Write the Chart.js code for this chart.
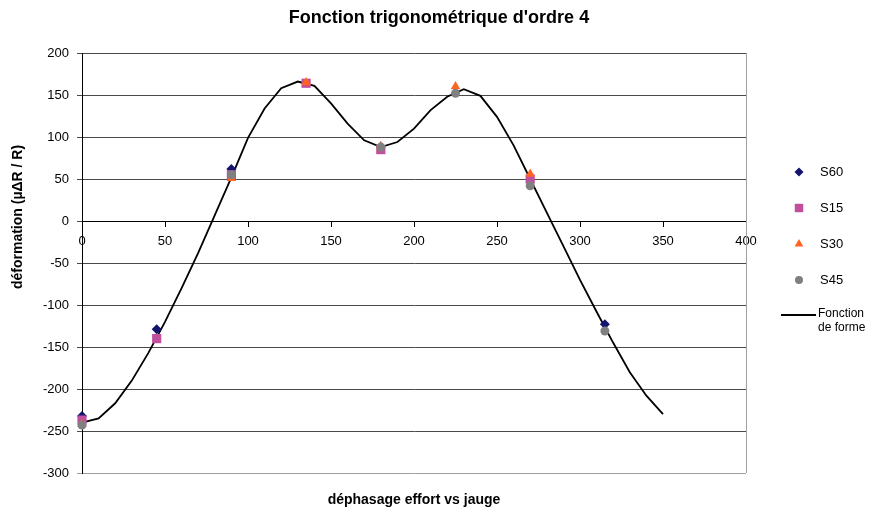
<!DOCTYPE html>
<html>
<head>
<meta charset="utf-8">
<script src="https://cdn.jsdelivr.net/npm/chart.js@4/dist/chart.umd.min.js"></script>
<style>
  html, body { margin: 0; padding: 0; background: #fff; }
</style>
</head>
<body>
<canvas id="chart" width="872" height="512"></canvas>
<script>
// measured gauge points (deg -> µΔR/R), null where a series has no point
const angles = [0, 45, 90, 135, 180, 225, 270, 315];
const s60 = [-232, -129, 62, null, null, null, null, -123];
const s15 = [-237, -140, 55, 164, 85, null, 50, null];
const s30 = [-242, null, 51, 165, 89, 160, 56, null];
const s45 = [-243, null, 55, null, 88, 152, 42, -131];

// shape function, every 10 degrees
const formeAngles = [0, 10, 20, 30, 40, 50, 60, 70, 80, 90, 100, 110, 120, 130, 140, 150, 160, 170,
  180, 190, 200, 210, 220, 230, 240, 250, 260, 270, 280, 290, 300, 310, 320, 330, 340, 350];
const formeValues = [-240, -235, -217, -190, -157, -120, -80, -38, 7, 52, 99, 134, 158, 166, 161, 140, 116, 96,
  88, 94, 110, 132, 148, 157, 149, 124, 90, 50, 10, -30, -70, -108, -145, -180, -208, -230];

const xTicks = [0, 50, 100, 150, 200, 250, 300, 350, 400];
const yTicks = [-300, -250, -200, -150, -100, -50, 0, 50, 100, 150, 200];

const FONT = '"Liberation Sans", Arial, sans-serif';

function points(xs, ys) {
  const out = [];
  xs.forEach((x, i) => {
    if (ys[i] !== null) out.push({ x: x, y: ys[i] });
  });
  return out;
}

const series = [
  { label: 'S60', values: s60, color: '#14146e', style: 'rectRot', radius: 5, order: 4 },
  { label: 'S15', values: s15, color: '#c0509e', style: 'rect', radius: 6.5, order: 3 },
  { label: 'S30', values: s30, color: '#ff6420', style: 'triangle', radius: 5.5, order: 2 },
  { label: 'S45', values: s45, color: '#808080', style: 'circle', radius: 4.5, order: 1 }
];

const datasets = series.map(s => ({
  label: s.label,
  data: points(angles, s.values),
  showLine: false,
  clip: false,
  pointStyle: s.style,
  pointRadius: s.radius,
  pointHoverRadius: s.radius,
  pointBackgroundColor: s.color,
  pointBorderColor: s.color,
  pointBorderWidth: 0,
  order: s.order
}));

datasets.push({
  label: 'Fonction de forme',
  data: points(formeAngles, formeValues),
  showLine: true,
  clip: false,
  borderColor: '#000',
  borderWidth: 1.8,
  pointRadius: 0,
  tension: 0,
  order: 5
});

// chart title, axis titles and the legend on the right
const decorations = {
  id: 'decorations',
  afterDraw(chart) {
    const ctx = chart.ctx;
    const area = chart.chartArea;
    ctx.save();

    // plot area right border
    ctx.strokeStyle = '#a0a0a0';
    ctx.lineWidth = 1;
    ctx.beginPath();
    ctx.moveTo(Math.round(area.right) + 0.5, area.top);
    ctx.lineTo(Math.round(area.right) + 0.5, area.bottom);
    ctx.stroke();

    ctx.fillStyle = '#000';
    ctx.textAlign = 'center';
    ctx.textBaseline = 'middle';
    ctx.font = 'bold 18px ' + FONT;
    ctx.fillText("Fonction trigonométrique d'ordre 4", 439, 18);

    ctx.font = 'bold 14px ' + FONT;
    ctx.fillText('déphasage effort vs jauge', (area.left + area.right) / 2, 500);

    ctx.save();
    ctx.translate(18, 217);
    ctx.rotate(-Math.PI / 2);
    ctx.fillText('déformation (µΔR / R)', 0, 0);
    ctx.restore();

    const markX = 799, textX = 820;
    const rows = [172, 208, 244, 280];
    ctx.font = '13px ' + FONT;
    ctx.textAlign = 'left';
    series.forEach((s, i) => {
      ctx.fillStyle = s.color;
      ctx.strokeStyle = s.color;
      Chart.helpers.drawPoint(ctx, { pointStyle: s.style, radius: s.radius - 0.5, borderWidth: 0 }, markX, rows[i]);
      ctx.fillStyle = '#000';
      ctx.fillText(s.label, textX, rows[i]);
    });
    ctx.strokeStyle = '#000';
    ctx.lineWidth = 1.8;
    ctx.beginPath();
    ctx.moveTo(781, 315);
    ctx.lineTo(816, 315);
    ctx.stroke();
    ctx.fillStyle = '#000';
    ctx.font = '12px ' + FONT;
    ctx.fillText('Fonction', 818, 314);
    ctx.fillText('de forme', 818, 328);

    ctx.restore();
  }
};

new Chart(document.getElementById('chart'), {
  type: 'scatter',
  data: { datasets: datasets },
  plugins: [decorations],
  options: {
    responsive: false,
    animation: false,
    layout: { padding: { left: 0, top: 53, right: 126, bottom: 39 } },
    plugins: {
      legend: { display: false },
      tooltip: { enabled: false },
      title: { display: false }
    },
    scales: {
      x: {
        type: 'linear',
        position: { y: 0 },
        min: 0,
        max: 400,
        afterBuildTicks: axis => { axis.ticks = xTicks.map(v => ({ value: v })); },
        ticks: { color: '#000', font: { family: FONT, size: 13 }, padding: 8 },
        grid: { drawOnChartArea: false, drawTicks: true, tickLength: 5, color: '#000' },
        border: { color: '#000', width: 1 }
      },
      y: {
        type: 'linear',
        min: -300,
        max: 200,
        afterBuildTicks: axis => { axis.ticks = yTicks.map(v => ({ value: v })); },
        afterFit: axis => { axis.width = 82; },
        ticks: { color: '#000', font: { family: FONT, size: 13 }, padding: 8 },
        grid: {
          color: ctx => (ctx.tick && ctx.tick.value === -300 ? '#a0a0a0' : '#4a4a4a'),
          tickLength: 5,
          lineWidth: 1
        },
        border: { color: '#000', width: 1 }
      }
    }
  }
});
</script>
</body>
</html>
